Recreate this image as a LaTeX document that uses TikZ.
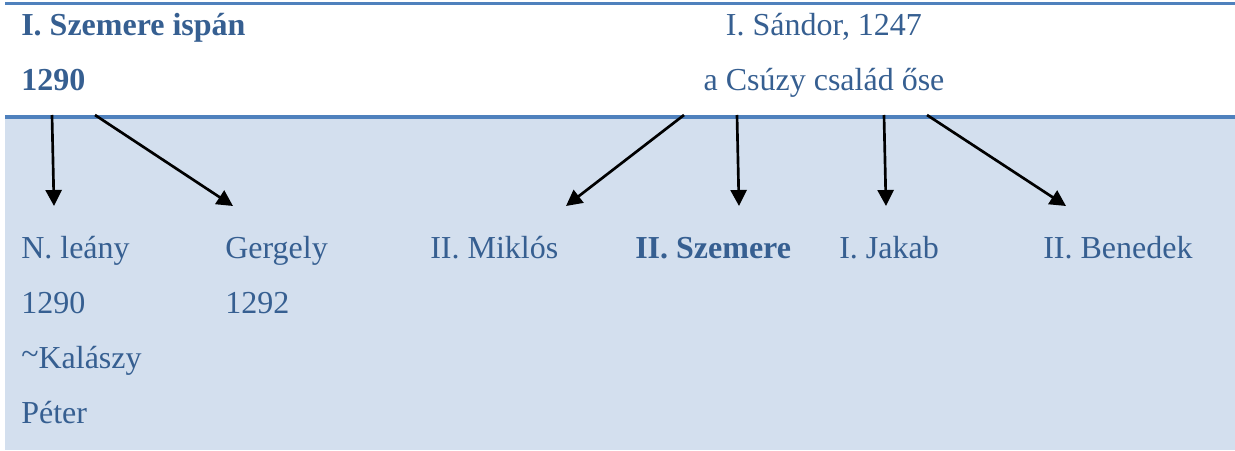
\documentclass[tikz,border=0pt]{standalone}
\usepackage{fontspec}
\setmainfont{Liberation Serif}
\usetikzlibrary{arrows.meta}
\definecolor{txtblue}{HTML}{365F91}
\definecolor{rule}{HTML}{4F81BD}
\definecolor{band}{HTML}{D3DFEE}
\tikzset{
  lbl/.style={anchor=base west, inner sep=0pt, text=txtblue, font=\fontsize{24}{28}\selectfont},
  blbl/.style={lbl, font=\fontsize{24}{28}\selectfont\bfseries},
  clbl/.style={lbl, anchor=base},
  descent/.style={draw=black, line width=2pt, -{Triangle[length=12pt,width=12pt]}},
}
\begin{document}
\begin{tikzpicture}[x=0.75pt,y=-0.75pt]
  \useasboundingbox (0,0) rectangle (1235,450);
  % shaded lower band and rules
  \fill[band] (5,117) rectangle (1235,450);
  \draw[rule, line width=2pt] (5,3.5) -- (1235,3.5);
  \draw[rule, line width=2.6pt] (5,117) -- (1235,117);

  % ancestors
  \node[blbl] (szemere1) at (21,35) {I. Szemere ispán};
  \node[blbl] (szemere1y) at (21,90) {1290};
  \node[clbl] (sandor) at (824,35) {I. Sándor, 1247};
  \node[clbl] (sandorn) at (824,90) {a Csúzy család őse};

  % descendants
  \node[lbl] (leany) at (21,258) {N. leány};
  \node[lbl] (leanyy) at (21,313) {1290};
  \node[lbl] (leanyh) at (21,368) {\raisebox{0.1em}{\char`~}Kalászy};
  \node[lbl] (leanyp) at (21,423) {Péter};
  \node[lbl] (gergely) at (225,258) {Gergely};
  \node[lbl] (gergelyy) at (225,313) {1292};
  \node[lbl] (miklos) at (430,258) {II. Miklós};
  \node[blbl] (szemere2) at (635,258) {II. Szemere};
  \node[lbl] (jakab) at (839,258) {I. Jakab};
  \node[lbl] (benedek) at (1043,258) {II. Benedek};

  % connector ends
  \coordinate (s1a) at (52,115);
  \coordinate (s1b) at (95,115);
  \coordinate (s2a) at (684,115);
  \coordinate (s2b) at (737,115);
  \coordinate (s2c) at (884,115);
  \coordinate (s2d) at (927,115);
  \coordinate (tleany) at (54,206);
  \coordinate (tgergely) at (233,206);
  \coordinate (tmiklos) at (566,206);
  \coordinate (tszemere) at (739,206);
  \coordinate (tjakab) at (886,206);
  \coordinate (tbenedek) at (1066,206);

  \draw[descent] (s1a) -- (tleany);
  \draw[descent] (s1b) -- (tgergely);
  \draw[descent] (s2a) -- (tmiklos);
  \draw[descent] (s2b) -- (tszemere);
  \draw[descent] (s2c) -- (tjakab);
  \draw[descent] (s2d) -- (tbenedek);
\end{tikzpicture}
\end{document}
